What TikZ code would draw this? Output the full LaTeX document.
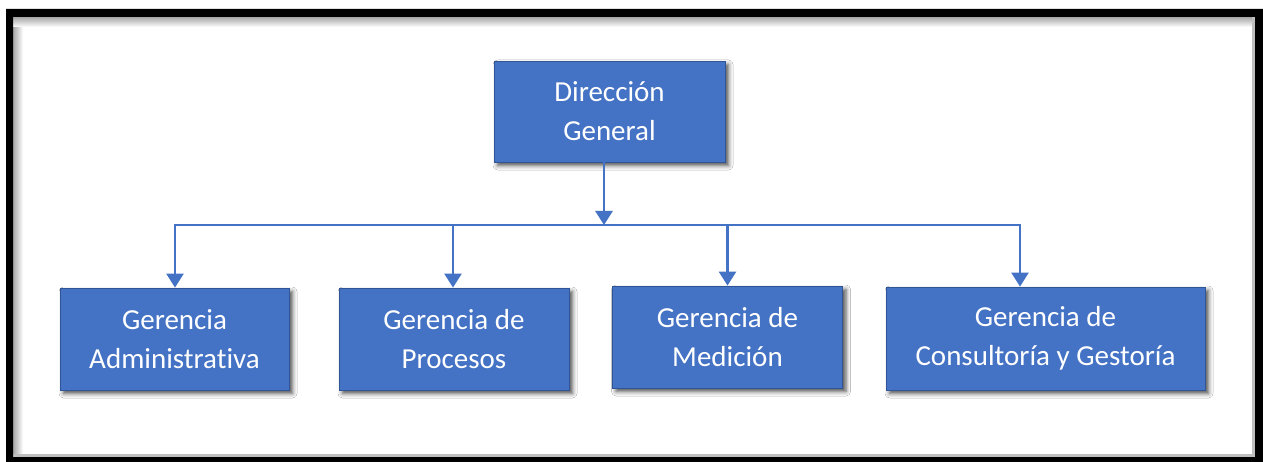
\documentclass[tikz,border=0pt]{standalone}
\usepackage{fontspec}
\setmainfont{Carlito}[Ligatures={NoCommon}]
\usetikzlibrary{arrows.meta,shadows.blur}
\definecolor{boxblue}{HTML}{4472C4}
\definecolor{boxedge}{HTML}{2F5597}
\begin{document}
\begin{tikzpicture}[x=1pt,y=-1pt,
  orgbox/.style={rectangle, fill=boxblue, draw=boxedge, line width=0.8pt,
    text=white, align=center, inner sep=0pt,
    font=\fontsize{29}{39}\selectfont,
    blur shadow={shadow xshift=3.5pt, shadow yshift=-3.5pt, shadow blur radius=4.5pt, shadow opacity=70}},
  conn/.style={draw=boxblue, line width=2.5pt},
  tip/.style={-{Triangle[width=17pt,length=14pt]}},
  bothtips/.style={{Triangle[width=17pt,length=14pt]}-{Triangle[width=17pt,length=14pt]}}]
\useasboundingbox (0,0) rectangle (1263,462);
\fill[white] (0,0) rectangle (1263,462);
% frame inner shadow
\shade[left color=black!35, right color=white] (13,17) rectangle (23,457);
\shade[top color=black!35, bottom color=white] (13,17) rectangle (1255,27);
\fill[black!25] (1252,17) rectangle (1255,457);
\fill[black!25] (13,454) rectangle (1255,457);
% black frame
\fill[black, even odd rule] (6,9) rectangle (1263,462) (13,17) rectangle (1255,457);

% nodes
\node[orgbox, minimum width=231pt, minimum height=101pt] (dg) at (609.5,111.5) {Dirección\\General};
\node[orgbox, minimum width=229pt, minimum height=102pt] (b1) at (174.5,339) {Gerencia\\Administrativa};
\node[orgbox, minimum width=230pt, minimum height=102pt] (b2) at (454,339) {Gerencia de\\Procesos};
\node[orgbox, minimum width=230pt, minimum height=102pt] (b3) at (727.5,337) {Gerencia de\\Medición};
\node[orgbox, minimum width=319pt, minimum height=103pt] (b4) at (1045.5,338.5) {Gerencia de\\Consultoría y Gestoría};

% bus coordinates
\coordinate (j) at (604,225);
\coordinate (a1) at (175,225);
\coordinate (a2) at (453,225);
\coordinate (a3) at (727.5,225);
\coordinate (a4) at (1020,225);

% connectors
\draw[conn, bothtips] (a1 |- b1.north) -- (a1) -- (a4) -- (a4 |- b4.north);
\draw[conn, tip] (a2) -- (a2 |- b2.north);
\draw[conn, tip] (a3) -- (a3 |- b3.north);
\draw[conn, tip] (dg.south -| j) -- (j);
\end{tikzpicture}
\end{document}
